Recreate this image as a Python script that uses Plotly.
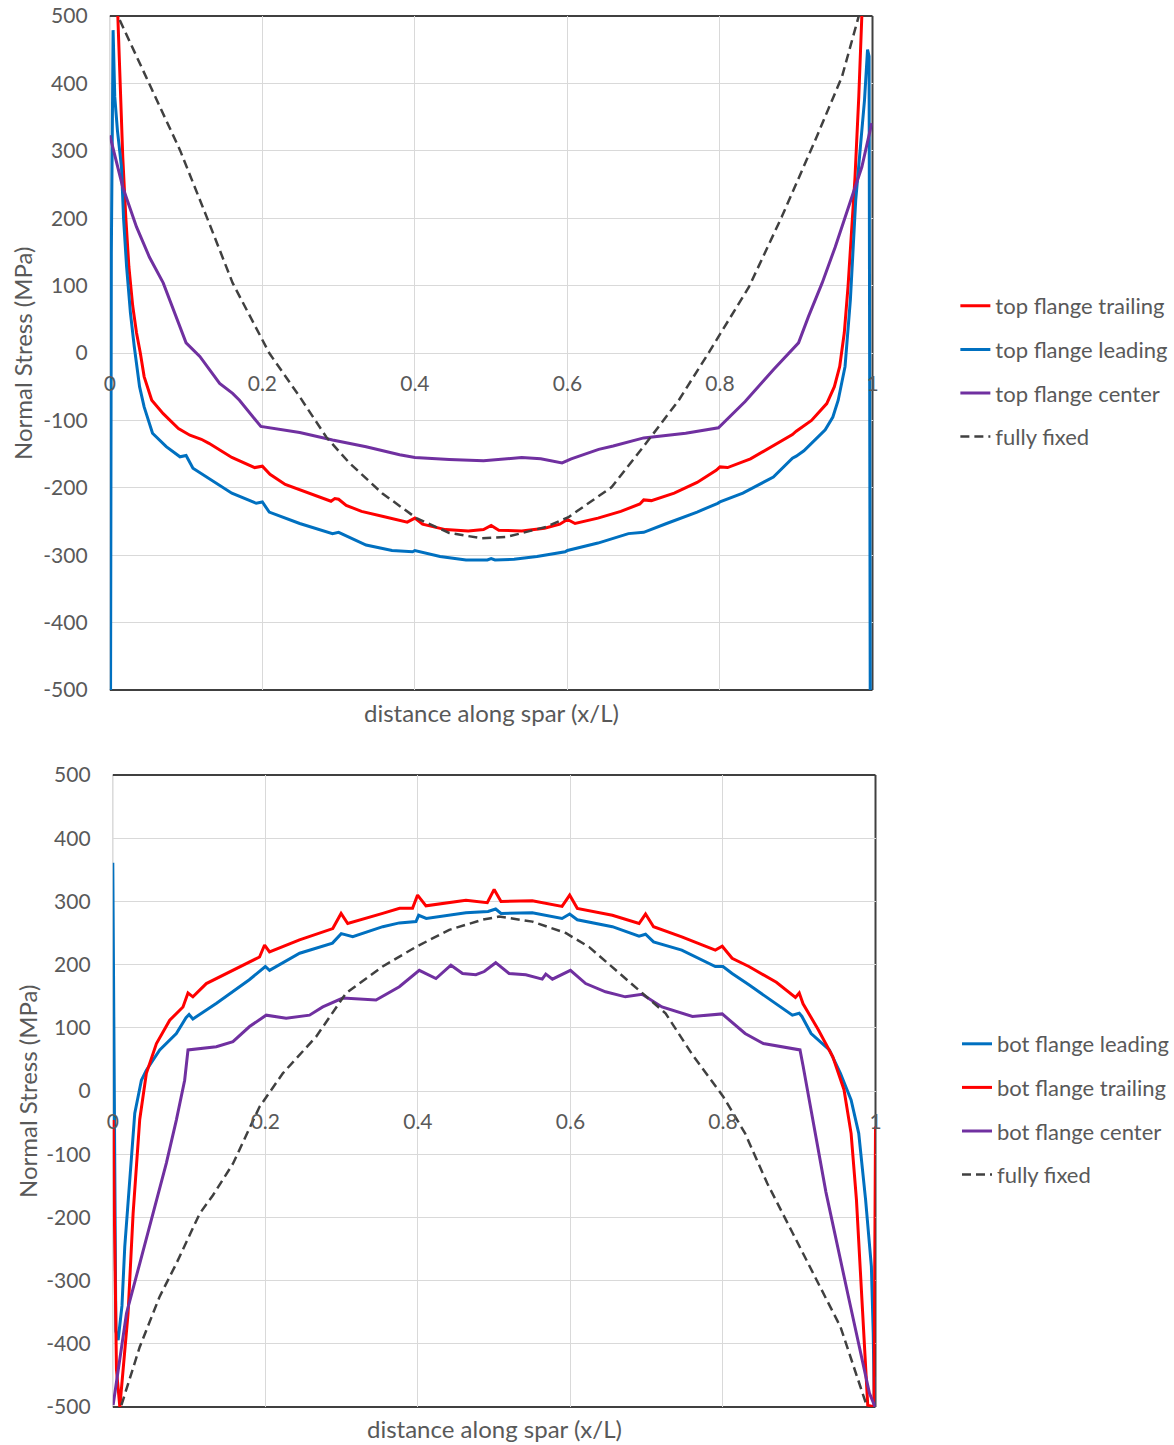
import plotly.graph_objects as go

W, H = 1174, 1445

# ---------------- top chart data ----------------
top_trailing_x = [0.0105, 0.0135, 0.017, 0.021, 0.025, 0.030, 0.035, 0.040, 0.045, 0.055, 0.070, 0.090,
                  0.105, 0.120, 0.130, 0.160, 0.190, 0.200, 0.210, 0.230, 0.260, 0.290, 0.295, 0.300,
                  0.310, 0.330, 0.360, 0.390, 0.400, 0.410, 0.440, 0.470, 0.490, 0.500, 0.510, 0.540,
                  0.570, 0.590, 0.600, 0.610, 0.640, 0.670, 0.695, 0.700, 0.710, 0.740, 0.770, 0.795,
                  0.800, 0.810, 0.840, 0.870, 0.895, 0.900, 0.920, 0.940, 0.950, 0.957, 0.963, 0.968,
                  0.972, 0.977, 0.982, 0.986]
top_trailing_y = [500, 400, 290, 200, 128, 70, 30, 0, -35, -70, -90, -112,
                  -122, -128, -134, -155, -170, -168, -180, -195, -208, -220, -216, -217,
                  -226, -235, -243, -251, -245, -254, -262, -264, -262, -256, -263, -264,
                  -260, -254, -247, -253, -245, -235, -224, -218, -219, -208, -192, -174,
                  -169, -170, -157, -138, -121, -116, -100, -75, -50, -20, 30, 100,
                  178, 260, 380, 500]

top_leading_x = [0.001, 0.002, 0.0043, 0.0065, 0.010, 0.0153, 0.018, 0.022, 0.027, 0.032, 0.039, 0.045,
                 0.056, 0.074, 0.092, 0.100, 0.109, 0.140, 0.160, 0.192, 0.200, 0.209, 0.249, 0.292,
                 0.300, 0.336, 0.370, 0.397, 0.400, 0.433, 0.467, 0.495, 0.500, 0.505, 0.530, 0.560,
                 0.597, 0.600, 0.640, 0.680, 0.700, 0.730, 0.770, 0.797, 0.800, 0.830, 0.870, 0.895,
                 0.900, 0.910, 0.925, 0.938, 0.948, 0.955, 0.964, 0.971, 0.978, 0.984, 0.9895, 0.9935,
                 0.9955, 0.997]
top_leading_y = [-500, 150, 479, 380, 330, 276, 200, 128, 60, 10, -50, -80,
                 -119, -139, -154, -152, -171, -193, -208, -223, -221, -236, -253, -268,
                 -266, -285, -293, -295, -293, -302, -307, -307, -305, -307, -306, -302,
                 -295, -293, -282, -268, -266, -253, -236, -223, -221, -208, -184, -156,
                 -153, -145, -128, -114, -95, -70, -20, 79, 227, 310, 375, 450,
                 440, -500]

top_center_x = [0.0, 0.017, 0.035, 0.052, 0.070, 0.087, 0.100, 0.118, 0.144, 0.161, 0.170, 0.198,
                0.210, 0.249, 0.292, 0.336, 0.380, 0.400, 0.445, 0.490, 0.540, 0.565, 0.593, 0.605,
                0.641, 0.660, 0.700, 0.755, 0.798, 0.833, 0.870, 0.903, 0.916, 0.934, 0.951, 0.969,
                0.986, 0.999]
top_center_y = [323, 246, 187, 142, 104, 54, 15, -5, -45, -60, -70, -109,
                -111, -118, -129, -139, -151, -155, -158, -160, -155, -157, -163, -157,
                -143, -138, -126, -119, -111, -72, -25, 15, 54, 104, 157, 217,
                276, 341]

top_fixed_x = [0.013, 0.052, 0.092, 0.127, 0.161, 0.209, 0.249, 0.284, 0.314, 0.357, 0.402, 0.445,
               0.488, 0.520, 0.572, 0.602, 0.658, 0.703, 0.746, 0.785, 0.838, 0.881, 0.925, 0.960,
               0.982]
top_fixed_y = [494, 400, 301, 202, 104, 0, -65, -125, -163, -208, -245, -267,
               -275, -273, -258, -243, -199, -134, -70, 0, 98, 202, 316, 410,
               500]

# ---------------- bottom chart data ----------------
bot_leading_x = [0.0, 0.002, 0.004, 0.007, 0.012, 0.0157, 0.0223, 0.0266, 0.0288, 0.0375, 0.044, 0.0615,
                 0.0833, 0.096, 0.100, 0.105, 0.110, 0.136, 0.179, 0.197, 0.200, 0.2055, 0.245, 0.288,
                 0.2995, 0.3146, 0.354, 0.3757, 0.3975, 0.401, 0.411, 0.463, 0.492, 0.502, 0.509, 0.550,
                 0.589, 0.599, 0.609, 0.655, 0.690, 0.6985, 0.709, 0.746, 0.790, 0.800, 0.812, 0.834,
                 0.870, 0.891, 0.9, 0.9035, 0.9156, 0.9395, 0.954, 0.968, 0.978, 0.987, 0.9946, 0.997,
                 0.9985, 1.0]
bot_leading_y = [361, -100, -380, -394, -340, -246, -141, -80, -35, 17, 33, 65,
                 91, 116, 121, 114, 118, 139, 176, 194, 197, 191, 218, 234,
                 249, 244, 260, 266, 268, 278, 273, 282, 284, 288, 281, 282,
                 273, 280, 271, 260, 245, 248, 236, 223, 197, 197, 186, 168,
                 138, 120, 123, 118, 91, 65, 28, -14, -67, -172, -278, -383,
                 -500, -452]

bot_trailing_x = [0.0004, 0.003, 0.0048, 0.0092, 0.020, 0.0266, 0.0353, 0.044, 0.0572, 0.0746, 0.092, 0.0986,
                  0.105, 0.1226, 0.1575, 0.1924, 0.199, 0.2055, 0.2448, 0.2884, 0.2993, 0.308, 0.3538, 0.376,
                  0.393, 0.3996, 0.4106, 0.463, 0.491, 0.500, 0.509, 0.550, 0.589, 0.599, 0.609, 0.655,
                  0.690, 0.6985, 0.709, 0.746, 0.790, 0.799, 0.812, 0.834, 0.870, 0.895, 0.900, 0.905,
                  0.925, 0.944, 0.9587, 0.968, 0.975, 0.9826, 0.9898, 0.998, 1.0]
bot_trailing_y = [-46, -300, -441, -500, -352, -194, -45, 28, 75, 112, 133, 155,
                  149, 170, 191, 212, 231, 220, 239, 257, 281, 265, 281, 289,
                  289, 310, 293, 302, 298, 319, 300, 301, 292, 310, 289, 278,
                  265, 280, 260, 244, 223, 229, 210, 197, 172, 148, 155, 138,
                  97, 54, 2, -67, -172, -331, -497, -500, -56]

bot_center_x = [0.0004, 0.0179, 0.0353, 0.0528, 0.0702, 0.0833, 0.0942, 0.0986, 0.1357, 0.1575, 0.1793, 0.2011,
                0.2273, 0.2579, 0.2753, 0.3015, 0.3451, 0.3757, 0.4018, 0.4237, 0.4433, 0.4586, 0.476, 0.487,
                0.502, 0.5196, 0.5415, 0.563, 0.5677, 0.5764, 0.600, 0.620, 0.646, 0.672, 0.694, 0.720,
                0.760, 0.799, 0.829, 0.853, 0.901, 0.905, 0.935, 0.9635, 0.992, 0.9995]
bot_center_y = [-497, -352, -273, -194, -114, -46, 17, 65, 70, 78, 102, 120,
                115, 120, 133, 147, 144, 165, 191, 178, 199, 186, 184, 189,
                203, 186, 184, 177, 185, 177, 191, 170, 157, 149, 153, 133,
                118, 122, 91, 75, 65, 40, -160, -320, -478, -500]

bot_fixed_x = [0.0113, 0.0353, 0.0615, 0.0833, 0.1139, 0.1313, 0.1575, 0.1924, 0.2229, 0.2666, 0.3059, 0.3538,
               0.3975, 0.4411, 0.4847, 0.5065, 0.5502, 0.5938, 0.6243, 0.6593, 0.6941, 0.7247, 0.7596, 0.8004,
               0.829, 0.858, 0.8915, 0.925, 0.954, 0.9874]
bot_fixed_y = [-497, -405, -325, -273, -194, -165, -115, -25, 28, 86, 155, 197,
               228, 255, 271, 276, 268, 250, 228, 191, 155, 123, 58, -9,
               -67, -146, -225, -304, -373, -494]

x_tickvals = [0, 0.2, 0.4, 0.6, 0.8, 1]
x_ticktext = ["0", "0.2", "0.4", "0.6", "0.8", "1"]
y_tickvals = [-500, -400, -300, -200, -100, 0, 100, 200, 300, 400, 500]
y_ticktext = ["-500", "-400", "-300", "-200", "-100", "0", "100", "200", "300", "400", "500"]

RED = "#FF0000"
BLUE = "#0070C0"
PURPLE = "#7030A0"
DARK = "#404040"
TXT = "#595959"
GRID = "#D9D9D9"
FONT = "Lato, 'Open Sans', sans-serif"

fig = go.Figure()

def add(x, y, name, color, xa, ya, legend, dash=None, width=3):
    fig.add_trace(go.Scatter(
        x=x, y=y, mode="lines", name=name,
        line=dict(color=color, width=width if dash is None else 2.5, dash=dash),
        xaxis=xa, yaxis=ya, legend=legend, legendgroup=legend + name,
        hoverinfo="skip"))

add(top_trailing_x, top_trailing_y, "top flange trailing", RED, "x", "y", "legend")
add(top_leading_x, top_leading_y, "top flange leading", BLUE, "x", "y", "legend")
add(top_center_x, top_center_y, "top flange center", PURPLE, "x", "y", "legend")
add(top_fixed_x, top_fixed_y, "fully fixed", DARK, "x", "y", "legend", dash="9px,5px")

add(bot_leading_x, bot_leading_y, "bot flange leading", BLUE, "x2", "y2", "legend2")
add(bot_trailing_x, bot_trailing_y, "bot flange trailing", RED, "x2", "y2", "legend2")
add(bot_center_x, bot_center_y, "bot flange center", PURPLE, "x2", "y2", "legend2")
add(bot_fixed_x, bot_fixed_y, "fully fixed", DARK, "x2", "y2", "legend2", dash="9px,5px")

# plot-area geometry (pixels in the 1174x1445 page)
top_l, top_r, top_t, top_b = 110, 874, 16, 690
bot_l, bot_r, bot_t, bot_b = 113, 877, 775, 1407

def xdom(l, r):
    return [l / W, r / W]

def ydom(t, b):
    return [(H - b) / H, (H - t) / H]

tick_font = dict(family=FONT, size=21, color=TXT)

def xaxis_cfg(l, r, t, b, yname):
    d = ydom(t, b)
    return dict(domain=xdom(l, r), range=[0, 1], anchor="free", position=(d[0] + d[1]) / 2,
                tickvals=x_tickvals, ticktext=x_ticktext, tickfont=tick_font,
                ticks="outside", ticklen=12, tickcolor="rgba(0,0,0,0)",
                showgrid=True, gridcolor=GRID, gridwidth=1, zeroline=False, showline=False,
                automargin=False, fixedrange=True)

def yaxis_cfg(t, b, xname):
    return dict(domain=ydom(t, b), range=[-500, 500], anchor=xname,
                tickvals=y_tickvals, ticktext=y_ticktext, tickfont=tick_font,
                ticks="outside", ticklen=17, tickcolor="rgba(0,0,0,0)",
                showgrid=True, gridcolor=GRID, gridwidth=1, zeroline=False, showline=False,
                automargin=False, fixedrange=True)

shapes = []
for xr, yr in (("x", "y"), ("x2", "y2")):
    xd, yd = xr + " domain", yr + " domain"
    shapes.append(dict(type="line", xref=xd, yref=yd, x0=0, x1=0, y0=0, y1=1,
                       line=dict(color=GRID, width=1.5), layer="below"))
    for (x0, x1, y0, y1) in ((0, 1, 1, 1), (0, 1, 0, 0), (1, 1, 0, 1)):
        shapes.append(dict(type="line", xref=xd, yref=yd, x0=x0, x1=x1, y0=y0, y1=y1,
                           line=dict(color=DARK, width=2), layer="below"))

title_font = dict(family=FONT, size=24, color=TXT)
annotations = [
    dict(text="distance along spar (x/L)", xref="x domain", yref="paper", x=0.5,
         y=(H - 712) / H, showarrow=False, font=title_font, xanchor="center", yanchor="middle"),
    dict(text="Normal Stress (MPa)", xref="paper", yref="y domain", x=22 / W, y=0.5,
         showarrow=False, font=title_font, textangle=-90, xanchor="center", yanchor="middle"),
    dict(text="distance along spar (x/L)", xref="x2 domain", yref="paper", x=0.5,
         y=(H - 1428) / H, showarrow=False, font=title_font, xanchor="center", yanchor="middle"),
    dict(text="Normal Stress (MPa)", xref="paper", yref="y2 domain", x=27 / W, y=0.5,
         showarrow=False, font=title_font, textangle=-90, xanchor="center", yanchor="middle"),
]

legend_font = dict(family=FONT, size=22, color=TXT)

fig.update_layout(
    template="none",
    width=W, height=H, autosize=False,
    margin=dict(l=0, r=0, t=0, b=0, pad=0),
    paper_bgcolor="white", plot_bgcolor="white",
    font=dict(family=FONT, color=TXT),
    xaxis=xaxis_cfg(top_l, top_r, top_t, top_b, "y"),
    yaxis=yaxis_cfg(top_t, top_b, "x"),
    xaxis2=xaxis_cfg(bot_l, bot_r, bot_t, bot_b, "y2"),
    yaxis2=yaxis_cfg(bot_t, bot_b, "x2"),
    shapes=shapes,
    annotations=annotations,
    legend=dict(x=957 / W, y=(H - 285) / H, xanchor="left", yanchor="top",
                font=legend_font, bgcolor="rgba(0,0,0,0)", borderwidth=0, tracegroupgap=12,
                traceorder="grouped"),
    legend2=dict(x=959 / W, y=(H - 1023) / H, xanchor="left", yanchor="top",
                 font=legend_font, bgcolor="rgba(0,0,0,0)", borderwidth=0, tracegroupgap=12,
                 traceorder="grouped"),
    showlegend=True,
)

fig.write_html("out.html", config={"displayModeBar": False},
               post_script="document.body.style.margin='0';document.body.style.overflow='hidden';")
